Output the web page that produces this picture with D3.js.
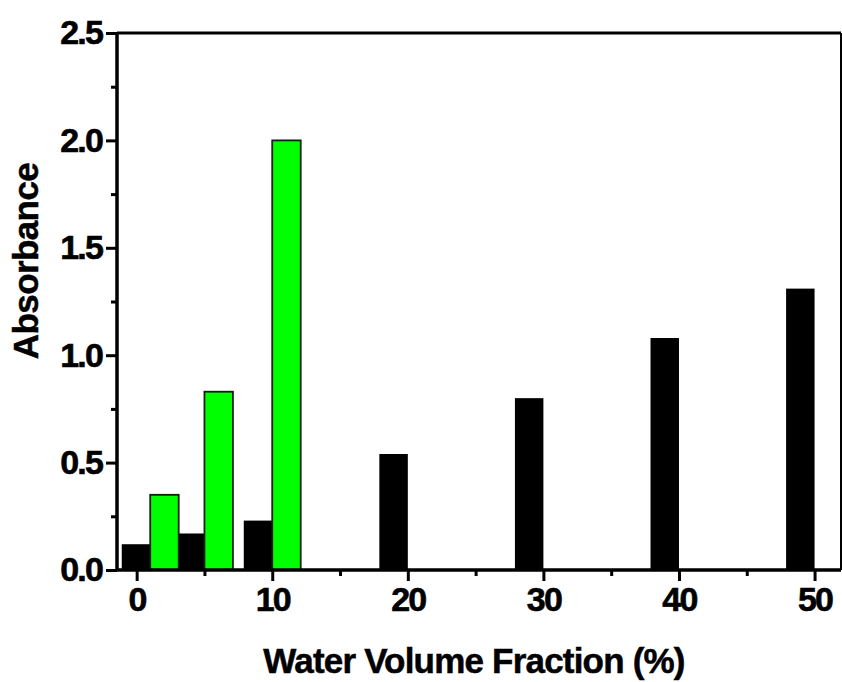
<!DOCTYPE html>
<html>
<head>
<meta charset="utf-8">
<script src="https://cdn.jsdelivr.net/npm/d3@7"></script>
<style>
  html, body { margin: 0; padding: 0; background: #fff; }
  svg { display: block; }
  text { font-family: "Liberation Sans", Arial, sans-serif; font-weight: bold; fill: #000; }
</style>
</head>
<body>
<svg id="chart" width="842" height="682"></svg>
<script>
// Water volume fraction (%) for each sample
const fractions = [1, 5, 10, 20, 30, 40, 50];
// Absorbance, black series
const absorbanceBlack = [0.12, 0.17, 0.23, 0.54, 0.80, 1.08, 1.31];
// Absorbance, green series (only measured at the low fractions)
const absorbanceGreen = [0.35, 0.83, 2.00, null, null, null, null];
// Axis ticks
const xTickValues = [0, 10, 20, 30, 40, 50];
const xMinorTicks = [5, 15, 25, 35, 45];
const yTickValues = [0, 0.5, 1.0, 1.5, 2.0, 2.5];
const yMinorTicks = [0.25, 0.75, 1.25, 1.75, 2.25];

const svg = d3.select("#chart");
const frame = { left: 117, right: 841, top: 33, bottom: 570 };

const x = d3.scaleLinear().domain([-1.45, 51.95]).range([frame.left, frame.right]);
const y = d3.scaleLinear().domain([0, 2.5]).range([frame.bottom, frame.top]);

const barW = 2.1;   // bar width in data units
const offset = 1.05; // half a bar either side of the fraction

const rows = fractions.map((f, i) => ({ f, black: absorbanceBlack[i], green: absorbanceGreen[i] }));

// Bars
svg.append("g").selectAll("rect")
  .data(rows)
  .join("rect")
  .attr("x", d => x(d.f - offset - barW / 2))
  .attr("width", d => x(d.f - offset + barW / 2) - x(d.f - offset - barW / 2))
  .attr("y", d => y(d.black))
  .attr("height", d => y(0) - y(d.black))
  .attr("fill", "#000");

svg.append("g").selectAll("rect")
  .data(rows.filter(d => d.green != null))
  .join("rect")
  .attr("x", d => x(d.f + offset - barW / 2))
  .attr("width", d => x(d.f + offset + barW / 2) - x(d.f + offset - barW / 2))
  .attr("y", d => y(d.green))
  .attr("height", d => y(0) - y(d.green))
  .attr("fill", "#00ff00")
  .attr("stroke", "#0d200d")
  .attr("stroke-width", 1.8);

// Frame: top and right edges
svg.append("line")
  .attr("x1", frame.left).attr("x2", frame.right)
  .attr("y1", frame.top).attr("y2", frame.top)
  .attr("stroke", "#000").attr("stroke-width", 3);
svg.append("line")
  .attr("x1", frame.right).attr("x2", frame.right)
  .attr("y1", frame.top).attr("y2", frame.bottom)
  .attr("stroke", "#000").attr("stroke-width", 2);

const styleTickText = sel => sel
  .attr("font-size", 34).attr("letter-spacing", -1.8)
  .attr("font-family", "Liberation Sans, Arial, sans-serif")
  .attr("font-weight", "bold").attr("fill", "#000")
  .attr("stroke", "#000").attr("stroke-width", 0.6);

// Bottom axis
const xAxis = svg.append("g").attr("transform", `translate(0,${frame.bottom})`);
xAxis.call(d3.axisBottom(x).tickValues(xMinorTicks).tickSize(6).tickFormat(""));
xAxis.call(g => g.append("g").call(d3.axisBottom(x).tickValues(xTickValues).tickSize(11).tickPadding(6).tickFormat(d3.format("d"))));
xAxis.selectAll(".domain").attr("stroke-width", 3).attr("d", `M${frame.left},0H${frame.right}`);
xAxis.selectAll(".tick line").attr("stroke-width", 3);
xAxis.selectAll(".tick text").call(styleTickText);

// Left axis
const yAxis = svg.append("g").attr("transform", `translate(${frame.left},0)`);
yAxis.call(d3.axisLeft(y).tickValues(yMinorTicks).tickSize(6).tickFormat(""));
yAxis.call(g => g.append("g").call(d3.axisLeft(y).tickValues(yTickValues).tickSize(11).tickPadding(4).tickFormat(d3.format(".1f"))));
yAxis.selectAll(".domain").attr("stroke-width", 3).attr("d", `M0,${frame.top}V${frame.bottom}`);
yAxis.selectAll(".tick line").attr("stroke-width", 3);
yAxis.selectAll(".tick text").call(styleTickText);

// Axis titles
svg.append("text")
  .attr("x", 474).attr("y", 673)
  .attr("text-anchor", "middle")
  .attr("font-size", 35).attr("letter-spacing", -0.8)
  .attr("stroke", "#000").attr("stroke-width", 0.5)
  .text("Water Volume Fraction (%)");

svg.append("text")
  .attr("transform", "translate(38,261) rotate(-90)")
  .attr("text-anchor", "middle")
  .attr("font-size", 35).attr("letter-spacing", -0.6)
  .attr("stroke", "#000").attr("stroke-width", 0.5)
  .text("Absorbance");
</script>
</body>
</html>
